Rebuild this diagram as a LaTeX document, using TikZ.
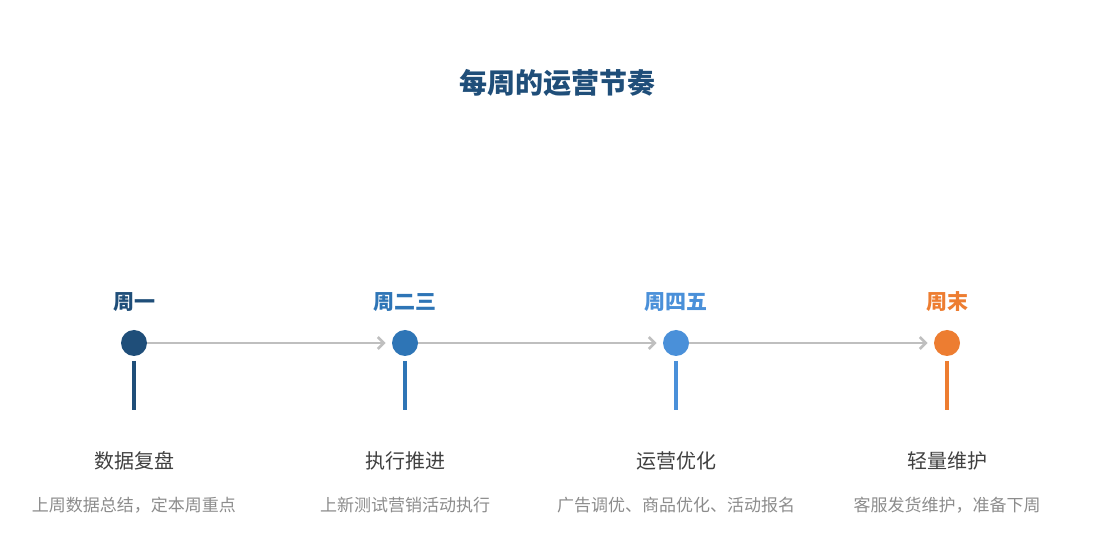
\documentclass[tikz,border=0pt]{standalone}
\usepackage{fontspec}
\setmainfont{Noto Sans CJK SC}
\usetikzlibrary{arrows.meta,positioning}
\definecolor{cOne}{HTML}{1F4E79}
\definecolor{cTwo}{HTML}{2E75B6}
\definecolor{cThree}{HTML}{4A90D9}
\definecolor{cFour}{HTML}{ED7D31}
\definecolor{cLine}{HTML}{BFBFBF}
\definecolor{cText}{HTML}{404040}
\definecolor{cDesc}{HTML}{8C8C8C}
\begin{document}
\begin{tikzpicture}[x=0.5pt,y=-0.5pt]
    \tikzset{
        dot/.style={circle, fill=#1, minimum size=13pt, inner sep=0pt},
        day/.style={text=#1, font=\bfseries\fontsize{10.5}{12}\selectfont},
        stem/.style={draw=#1, line width=1.6pt},
        phase/.style={text=cText, font=\fontsize{10}{12}\selectfont},
        desc/.style={text=cDesc, font=\fontsize{8.5}{10}\selectfont},
        arc/.style={draw=cLine, line width=1.3pt, -{Straight Barb[length=3pt,width=6pt]}}
    }
    \useasboundingbox (0,0) rectangle (1114,555);
    \node[text=cOne, font=\bfseries\fontsize{14}{16}\selectfont] (title) at (557,83) {每周的运营节奏};
    \foreach \n/\x/\c/\d/\s/\t in {%
    a/134/cOne/周一/数据复盘/{上周数据总结，定本周重点},
    b/405/cTwo/周二三/执行推进/上新测试营销活动执行,
    c/676/cThree/周四五/运营优化/{广告调优、商品优化、活动报名},
    d/947/cFour/周末/轻量维护/{客服发货维护，准备下周}%
    }{
        \node[dot=\c] (\n) at (\x,343) {};
        \node[day=\c] (\n day) at (\x,302) {\d};
        \coordinate (\n top) at (\x,361);
        \coordinate (\n bot) at (\x,410);
        \draw[stem=\c] (\n top) -- (\n bot);
        \node[phase] (\n phase) at (\x,461) {\s};
        \node[desc] (\n desc) at (\x,505) {\t};
    }
    \foreach \x/\y in {a/b, b/c, c/d}{
        \draw[arc] (\x) -- ([xshift=-3pt]\y.west);
    }
\end{tikzpicture}
\end{document}
